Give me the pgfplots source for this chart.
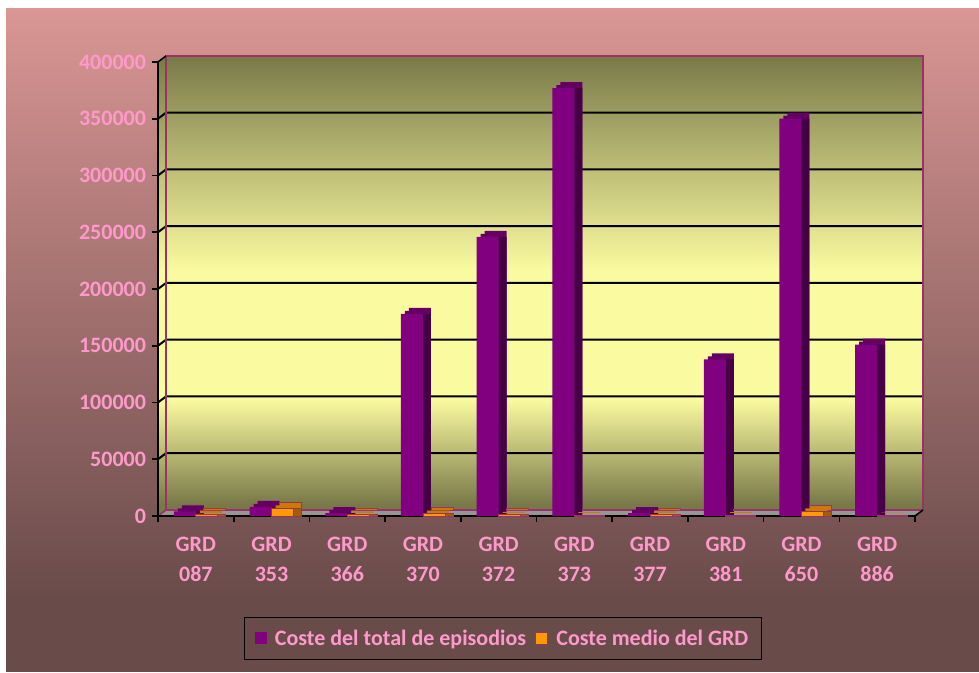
\documentclass[border=0pt]{standalone}
\usepackage{pgfplots}
\pgfplotsset{compat=1.18}
\usepackage{pgfplotstable}
\usepackage{fontspec}
\setmainfont{Carlito}
\definecolor{bgtop}{RGB}{217,150,148}
\definecolor{bgbot}{RGB}{105,75,74}
\definecolor{olive1}{RGB}{120,120,72}
\definecolor{lighty}{RGB}{250,250,160}
\definecolor{wallborder}{RGB}{153,51,102}
\definecolor{floorgray}{RGB}{150,150,150}
\definecolor{pfront}{RGB}{128,0,128}
\definecolor{ptop}{RGB}{100,0,100}
\definecolor{pside}{RGB}{70,0,70}
\definecolor{ofront}{RGB}{255,153,0}
\definecolor{otop}{RGB}{204,122,0}
\definecolor{oside}{RGB}{160,95,0}
\definecolor{pinktxt}{RGB}{255,153,204}

\pgfplotstableread{
x purple orange
0 4000 1800
1 8000 6800
2 2500 1500
3 178000 2000
4 246000 1000
5 377000 800
6 2500 1500
7 138000 800
8 350000 4000
9 151000 300
}\datatable

\begin{document}
\begin{tikzpicture}[x=0.75pt,y=0.75pt, font=\bfseries\fontsize{16.5}{19.8}\selectfont]
\fill[white] (0,0) rectangle (979,673);
\fill[top color=bgtop, bottom color=bgbot] (6,73) rectangle (979,664);
\fill[bgbot] (6,1) rectangle (979,73.5);
% walls
\begin{scope}
\clip (158,157) -- (158,611) -- (166,617) -- (923,617) -- (923,163) -- (166,163) -- cycle;
\fill[top color=olive1, bottom color=lighty] (150,403) rectangle (930,620);
\fill[lighty] (150,273) rectangle (930,403.5);
\fill[top color=lighty, bottom color=olive1] (150,168) rectangle (930,273.5);
\fill[olive1] (150,150) rectangle (930,168.5);
\end{scope}
% floor
\fill[floorgray] (158,157) -- (166,163) -- (923,163) -- (915,157) -- cycle;
% gridlines
\foreach \v in {1,...,7} {
  \pgfmathsetmacro\yy{157+\v*56.75}
  \draw[line width=1.5pt] (158,\yy) -- (166,{\yy+6}) -- (923,{\yy+6});
}
\draw[wallborder, line width=1.5pt] (166,163) rectangle (923,617);
\draw[wallborder, line width=1.2pt] (158,157) -- (166,163);
\draw[line width=1.2pt] (158,611) -- (166,617);
\draw[line width=1.2pt] (915,157) -- (923,163);

\begin{axis}[
  at={(118.5pt,117.75pt)}, anchor=south west,
  scale only axis, width=567.75pt, height=340.5pt,
  xmin=-0.5, xmax=9.5, ymin=0, ymax=400000,
  clip=false,
  axis x line*=bottom, axis y line*=left,
  axis line style={black, line width=1.5pt, -},
  tick align=outside,
  major tick length=4.5pt, minor tick length=4.5pt,
  every tick/.style={black, line width=1.2pt},
  ytick={0,50000,...,400000},
  scaled y ticks=false,
  yticklabel style={/pgf/number format/fixed, /pgf/number format/1000 sep={}, /pgf/number format/assume math mode=true},
  xtick={0,...,9},
  major x tick style={draw=none},
  minor xtick={-0.5,0.5,...,9.5},
  xticklabels={{GRD\\087},{GRD\\353},{GRD\\366},{GRD\\370},{GRD\\372},{GRD\\373},{GRD\\377},{GRD\\381},{GRD\\650},{GRD\\886}},
  tick label style={text=pinktxt, font=\bfseries\fontsize{16.5}{22.5}\selectfont},
  xticklabel style={align=center, yshift=-7.5pt},
  yticklabel style={xshift=-1pt},
  legend columns=2,
  legend style={at={(axis description cs:0.4557,-0.2698)}, anchor=center,
    draw=black, line width=1pt, fill=none, text=pinktxt,
    inner xsep=8pt, inner ysep=7pt,
    font=\bfseries\fontsize{16.5}{19.8}\selectfont,
    /tikz/every odd column/.append style={column sep=4pt},
    /tikz/every even column/.append style={column sep=5pt}},
]
\addplot[ybar, bar width=16.5pt, bar shift=-2.25pt, yshift=4.5pt, fill=ptop, draw=none, forget plot] table[x=x,y=purple]{\datatable};
\addplot[ybar, bar width=16.5pt, bar shift=-5.25pt, yshift=2.25pt, fill=ptop, draw=none, forget plot] table[x=x,y=purple]{\datatable};
\addplot[ybar, bar width=16.5pt, bar shift=-2.25pt, fill=pside, draw=none, forget plot] table[x=x,y=purple]{\datatable};
\addplot[ybar, bar width=16.5pt, bar shift=-8.25pt, fill=pfront, draw=none,
  legend image code/.code={\fill[pfront] (0pt,-4.5pt) rectangle (9pt,4.5pt);}] table[x=x,y=purple]{\datatable};
\addlegendentry{Coste del total de episodios}
\addplot[ybar, bar width=16.5pt, bar shift=14.25pt, yshift=4.5pt, fill=otop, draw=wallborder, line width=0.6pt, forget plot] table[x=x,y=orange]{\datatable};
\addplot[ybar, bar width=16.5pt, bar shift=11.25pt, yshift=2.25pt, fill=otop, draw=none, forget plot] table[x=x,y=orange]{\datatable};
\addplot[ybar, bar width=16.5pt, bar shift=14.25pt, fill=oside, draw=wallborder, line width=0.6pt, forget plot] table[x=x,y=orange]{\datatable};
\addplot[ybar, bar width=16.5pt, bar shift=8.25pt, fill=ofront, draw=wallborder, line width=0.6pt,
  legend image code/.code={\fill[ofront, draw=wallborder, line width=0.8pt] (0pt,-4.5pt) rectangle (9pt,4.5pt);}] table[x=x,y=orange]{\datatable};
\addlegendentry{Coste medio del GRD}
\end{axis}
\end{tikzpicture}
\end{document}
